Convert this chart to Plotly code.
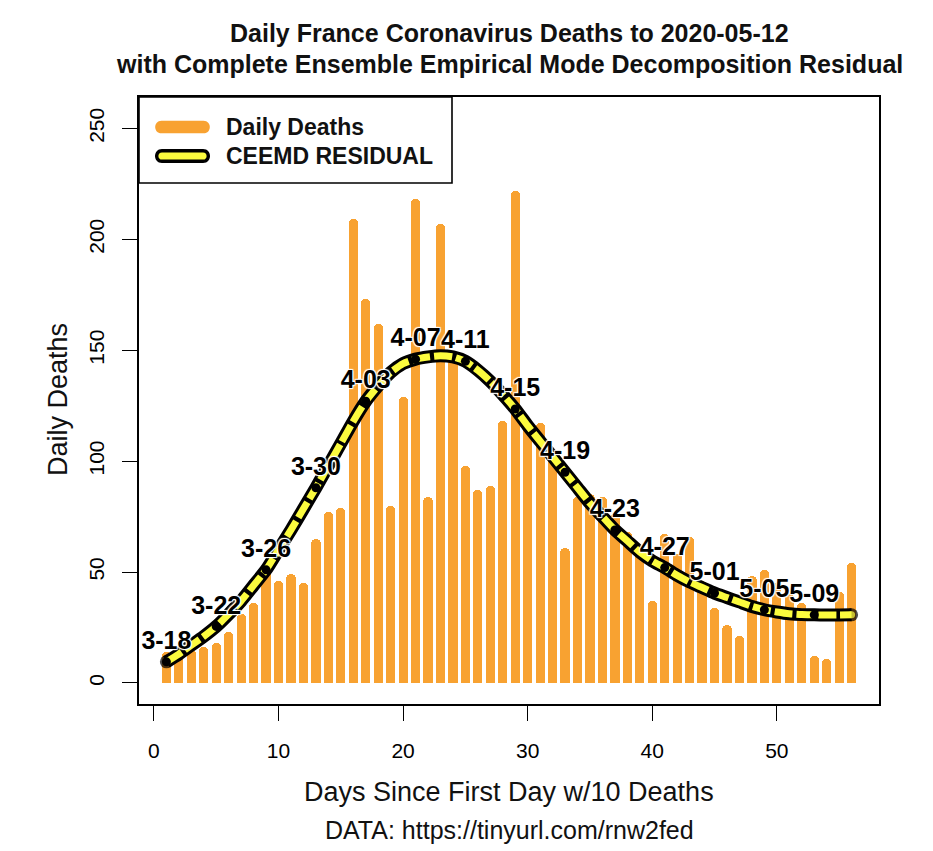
import plotly.graph_objects as go

# ---------------- data ----------------
days = list(range(1, 57))
daily_deaths = [14, 15, 15, 16, 18, 23, 31, 36, 54, 46,
                49, 45, 65, 77, 79, 209, 173, 162, 80, 129,
                218, 84, 207, 148, 98, 87, 89, 118, 222, 117,
                117, 103, 61, 84, 85, 84, 76, 68, 60, 37,
                67, 58, 66, 46, 34, 26, 21, 48, 51, 45,
                40, 36, 12, 11, 41, 54]
ceemd_residual = [9.5, 13, 17, 21, 25.5, 31, 37, 44, 51, 60,
                  69, 78.5, 88, 98, 108, 118, 127, 134, 140, 144,
                  146, 147, 147.5, 147, 145, 141, 136, 130, 123.5, 116,
                  109, 102, 95, 88, 81, 75, 69, 64, 59, 55,
                  52, 48.5, 45.5, 43, 40.5, 38.5, 36.5, 34.5, 33, 32,
                  31.2, 30.8, 30.7, 30.6, 30.6, 30.7]
label_days = [1, 5, 9, 13, 17, 21, 25, 29, 33, 37, 41, 45, 49, 53]
label_text = ["3-18", "3-22", "3-26", "3-30", "4-03", "4-07", "4-11",
              "4-15", "4-19", "4-23", "4-27", "5-01", "5-05", "5-09"]
x_ticks = [0, 10, 20, 30, 40, 50]
y_ticks = [0, 50, 100, 150, 200, 250]

title_lines = ["Daily France Coronavirus Deaths to 2020-05-12",
               "with Complete Ensemble Empirical Mode Decomposition Residual"]
x_title = "Days Since First Day w/10 Deaths"
y_title = "Daily Deaths"
caption = "DATA: https://tinyurl.com/rnw2fed"
legend_names = ["Daily Deaths", "CEEMD RESIDUAL"]

# ---------------- style ----------------
FONT = "Liberation Sans, Arial, Helvetica, sans-serif"
ORANGE = "#F8A231"
YELLOW = "#FBFB3E"
OFF = 8                      # page body margin
W, H = 933 - OFF, 851 - OFF
BOX_L, BOX_R, BOX_T, BOX_B = 139, 879, 97, 704   # page coordinates
ML = BOX_L - OFF
MT = BOX_T - OFF
MR = W - (BOX_R - OFF)
MB = H - (BOX_B - OFF)
PW = W - ML - MR
PH = H - MT - MB

label_y = [ceemd_residual[d - 1] for d in label_days]
n = len(days)
end_sizes_black = [13 if i in (0, n - 1) else 0 for i in range(n)]
end_sizes_yellow = [7 if i == n - 1 else 0 for i in range(n)]

fig = go.Figure()

fig.add_trace(go.Bar(
    x=days, y=daily_deaths, width=0.74,
    marker=dict(color=ORANGE, line=dict(width=0)),
    showlegend=False, hoverinfo="skip"))

fig.add_trace(go.Scatter(
    x=days, y=ceemd_residual, mode="lines+markers",
    line=dict(color="black", width=13, shape="spline", smoothing=0.6),
    marker=dict(color="black", size=end_sizes_black, line=dict(width=0)),
    showlegend=False, hoverinfo="skip"))

fig.add_trace(go.Scatter(
    x=days, y=ceemd_residual, mode="lines+markers",
    line=dict(color=YELLOW, width=7, shape="spline", smoothing=0.6,
              dash="18px,4px"),
    marker=dict(color=YELLOW, size=end_sizes_yellow, line=dict(width=0)),
    showlegend=False, hoverinfo="skip"))

fig.add_trace(go.Scatter(
    x=label_days, y=label_y, mode="markers+text",
    text=label_text, textposition="top center",
    marker=dict(color="black", size=9, line=dict(width=0)),
    textfont=dict(family=FONT, size=25, color="black", weight="bold",
                  shadow="1px 1px 1px white, -1px -1px 1px white, 1px -1px 1px white, -1px 1px 1px white"),
    showlegend=False, hoverinfo="skip"))

axis_common = dict(
    showline=True, linecolor="black", linewidth=1.6, mirror=True,
    ticks="outside", ticklen=15, tickwidth=1.4, tickcolor="black",
    showgrid=False, zeroline=False,
    tickfont=dict(family=FONT, size=21, color="black"),
)

fig.update_xaxes(range=[-1.2, 58.2], tickmode="array", tickvals=x_ticks,
                 ticklabelstandoff=12, **axis_common)
fig.update_yaxes(range=[-9.5, 264.2], tickmode="array", tickvals=y_ticks,
                 tickangle=-90, ticklabelstandoff=10, **axis_common)


def px_x(page_x):
    return (page_x - OFF - ML) / PW


def px_y(page_y):
    return 1 - (page_y - OFF - MT) / PH


def pill(L, r):
    k = 1.333 * r
    h = L / 2
    return (f"M {-h},{-r} L {h},{-r} C {h + k},{-r} {h + k},{r} {h},{r} "
            f"L {-h},{r} C {-h - k},{r} {-h - k},{-r} {-h},{-r} Z")


shapes = [
    dict(type="rect", xref="paper", yref="paper",
         x0=0, x1=px_x(452), y0=px_y(183), y1=1,
         line=dict(color="black", width=1.6), fillcolor="white", layer="above"),
    dict(type="path", xref="paper", yref="paper",
         xsizemode="pixel", ysizemode="pixel",
         xanchor=px_x(182.5), yanchor=px_y(127),
         path=pill(42, 6.3), fillcolor=ORANGE, line=dict(width=0), layer="above"),
    dict(type="path", xref="paper", yref="paper",
         xsizemode="pixel", ysizemode="pixel",
         xanchor=px_x(182.5), yanchor=px_y(156),
         path=pill(41, 7), fillcolor="black", line=dict(width=0), layer="above"),
    dict(type="path", xref="paper", yref="paper",
         xsizemode="pixel", ysizemode="pixel",
         xanchor=px_x(182.5), yanchor=px_y(156),
         path=pill(41, 3.6), fillcolor=YELLOW, line=dict(width=0), layer="above"),
]


def ann_page(text, page_x, page_y, size, xanchor="center", angle=0):
    return dict(text=text, xref="paper", yref="paper",
                x=px_x(page_x), y=px_y(page_y), xanchor=xanchor, yanchor="middle",
                textangle=angle, showarrow=False,
                font=dict(family=FONT, size=size, color="#111"))


annotations = [
    ann_page(f"<b>{title_lines[0]}</b>", 509, 33, 25),
    ann_page(f"<b>{title_lines[1]}</b>", 509, 64, 25),
    ann_page(x_title, 509, 792, 27),
    ann_page(caption, 509, 830, 25),
    ann_page(y_title, 58, 400, 27, angle=-90),
    ann_page(f"<b>{legend_names[0]}</b>", 224, 127, 23, xanchor="left"),
    ann_page(f"<b>{legend_names[1]}</b>", 224, 156, 23, xanchor="left"),
]

fig.update_layout(
    width=W, height=H,
    margin=dict(l=ML, r=MR, t=MT, b=MB, autoexpand=False),
    paper_bgcolor="white", plot_bgcolor="white",
    barcornerradius=5, bargap=0,
    showlegend=False,
    shapes=shapes, annotations=annotations,
    font=dict(family=FONT, color="black"),
)

fig.write_html("out.html")
